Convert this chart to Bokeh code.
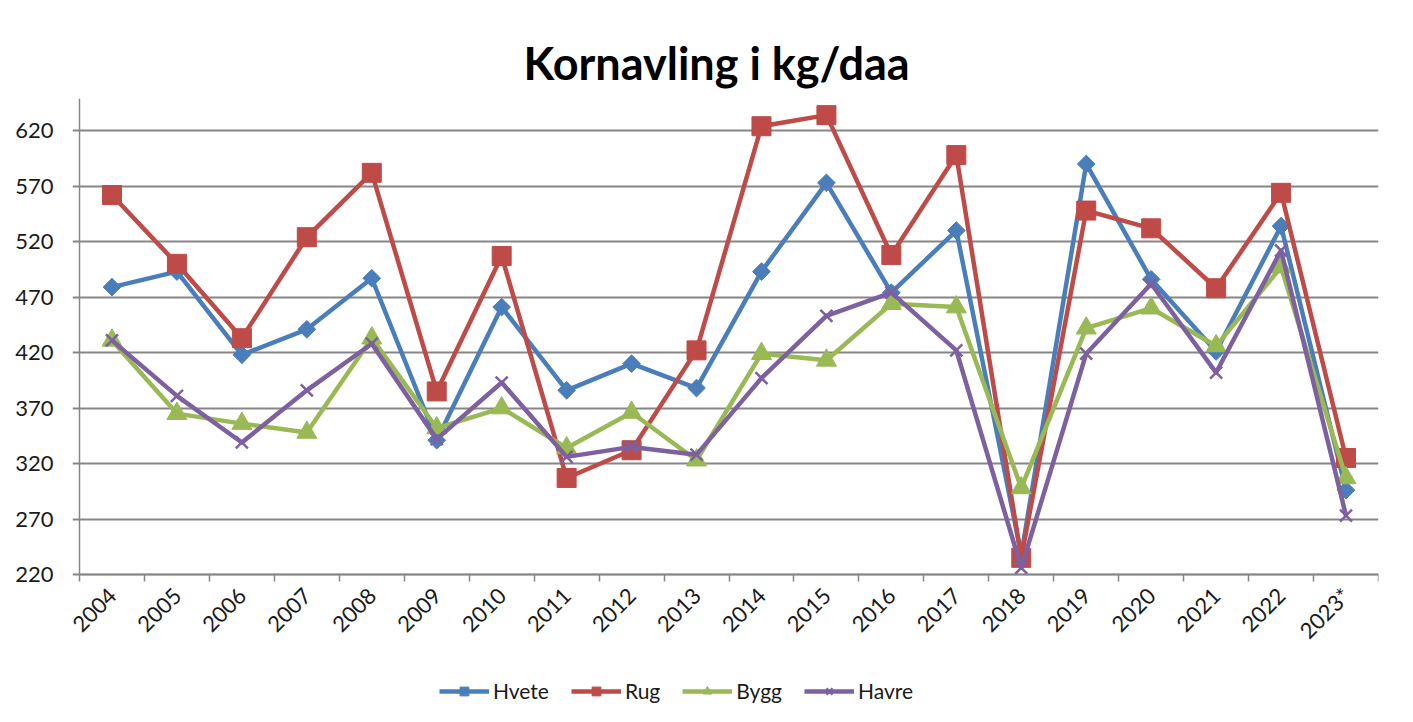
import numpy as np
from bokeh.plotting import figure
from bokeh.models import Range1d, FixedTicker, Legend, LegendItem, LinearAxis
from bokeh.embed import file_html
from bokeh.resources import INLINE

# ---- data ----
years = ["2004", "2005", "2006", "2007", "2008", "2009", "2010", "2011", "2012", "2013",
         "2014", "2015", "2016", "2017", "2018", "2019", "2020", "2021", "2022", "2023*"]
hvete = [479, 493, 418, 441, 487, 341, 461, 386, 410, 388, 493, 573, 474, 530, 238, 590, 486, 421, 534, 296]
rug = [562, 500, 433, 524, 582, 385, 507, 307, 332, 422, 624, 634, 508, 598, 235, 548, 532, 478, 564, 325]
bygg = [431, 365, 356, 348, 433, 352, 370, 334, 366, 323, 419, 413, 464, 461, 298, 442, 460, 426, 497, 307]
havre = [431, 381, 339, 386, 428, 342, 393, 326, 335, 328, 397, 453, 474, 422, 226, 419, 482, 402, 512, 273]
y_ticks = [220, 270, 320, 370, 420, 470, 520, 570, 620]
Y_MIN, Y_MAX = 220, 649

# name, values, colour, marker, size, angle
series = [
    ("Hvete", hvete, "#4A7EBB", "square", 12.5, np.pi / 4),
    ("Rug", rug, "#BE4B48", "square", 19, 0),
    ("Bygg", bygg, "#98B954", "triangle", 20, 0),
    ("Havre", havre, "#7D60A0", "x", 17, 0),
]

FONT = "Lato"
x = list(range(len(years)))
n = len(years)

# plot area: 1299 x 476 px for the data; 7 px extra on the left (tick marks,
# room for the first rotated label) and 130 px extra below (labels, legend)
PLOT_W, PLOT_H, EXTRA_L, EXTRA_H = 1299, 476, 7, 130
y_per_px = (Y_MAX - Y_MIN) / PLOT_H
x_per_px = n / PLOT_W
x_lo = -0.5 - EXTRA_L * x_per_px
y_lo = Y_MIN - EXTRA_H * y_per_px

p = figure(frame_width=PLOT_W + EXTRA_L, frame_height=PLOT_H + EXTRA_H, output_backend="svg",
           toolbar_location=None,
           x_range=Range1d(x_lo, n - 0.5), y_range=Range1d(y_lo, Y_MAX),
           min_border_left=72, min_border_right=19, min_border_top=98, min_border_bottom=2,
           title="Kornavling i kg/daa")

p.title.align = "left"
p.title.text_font = FONT
p.title.text_font_size = "45px"
p.title.text_font_style = "bold"
p.title.text_color = "#000000"
p.title.offset = 451
p.title.standoff = 17

p.outline_line_color = None
p.background_fill_color = "white"
p.border_fill_color = "white"

# y axis labels (left panel)
p.yaxis.ticker = FixedTicker(ticks=y_ticks)
p.yaxis.axis_line_color = None
p.yaxis.major_tick_line_color = None
p.yaxis.major_tick_out = 0
p.yaxis.major_tick_in = 0
p.yaxis.minor_tick_line_color = None
p.yaxis.major_label_text_font = FONT
p.yaxis.major_label_text_font_size = "22px"
p.yaxis.major_label_text_color = "#1a1a1a"
p.yaxis.major_label_standoff = 19

# y axis line at the left edge of the data area
y_line_axis = LinearAxis(fixed_location=-0.5, ticker=FixedTicker(ticks=[]),
                         bounds=(Y_MIN, Y_MAX), axis_line_color="#868686",
                         axis_line_width=1.5, major_tick_line_color=None,
                         minor_tick_line_color=None, major_label_text_font_size="0px")
p.add_layout(y_line_axis, "left")

# x axis at value 220: labels at centers, tick marks at boundaries (minor ticks)
boundaries = [i - 0.5 for i in range(n + 1)]
p.xaxis.fixed_location = Y_MIN
p.xaxis.bounds = (-0.5, n - 0.5)
p.xaxis.ticker = FixedTicker(ticks=x, minor_ticks=boundaries)
p.xaxis.major_label_overrides = {i: y for i, y in enumerate(years)}
p.xaxis.major_label_orientation = np.pi / 4
p.xaxis.axis_line_color = "#868686"
p.xaxis.axis_line_width = 1.5
p.xaxis.major_tick_line_color = None
p.xaxis.minor_tick_line_color = "#868686"
p.xaxis.minor_tick_line_width = 1.5
p.xaxis.minor_tick_out = 7
p.xaxis.minor_tick_in = 0
p.xaxis.major_label_text_font = FONT
p.xaxis.major_label_text_font_size = "22px"
p.xaxis.major_label_text_color = "#1a1a1a"
p.xaxis.major_label_standoff = 10

p.xgrid.grid_line_color = None
p.ygrid.ticker = FixedTicker(ticks=y_ticks)
p.ygrid.grid_line_color = "#868686"
p.ygrid.grid_line_width = 2

items = []
for name, vals, color, marker, size, ang in series:
    lr = p.line(x, vals, line_color=color, line_width=4.5, line_join="round")
    sr = p.scatter(x, vals, marker=marker, size=size, angle=ang, fill_color=color,
                   line_color=color, line_width=2.5 if marker == "x" else 1)
    items.append(LegendItem(label=name, renderers=[lr, sr]))

legend = Legend(items=items, orientation="horizontal", location=(367, 1))
legend.label_text_font = FONT
legend.label_text_font_size = "21px"
legend.label_text_color = "#1a1a1a"
legend.glyph_width = 50
legend.glyph_height = 22
legend.label_standoff = 4
legend.spacing = 22
legend.border_line_color = None
legend.background_fill_alpha = 0
legend.margin = 0
legend.padding = 4
p.add_layout(legend, "center")

open("out.html", "w").write(file_html(p, INLINE))
